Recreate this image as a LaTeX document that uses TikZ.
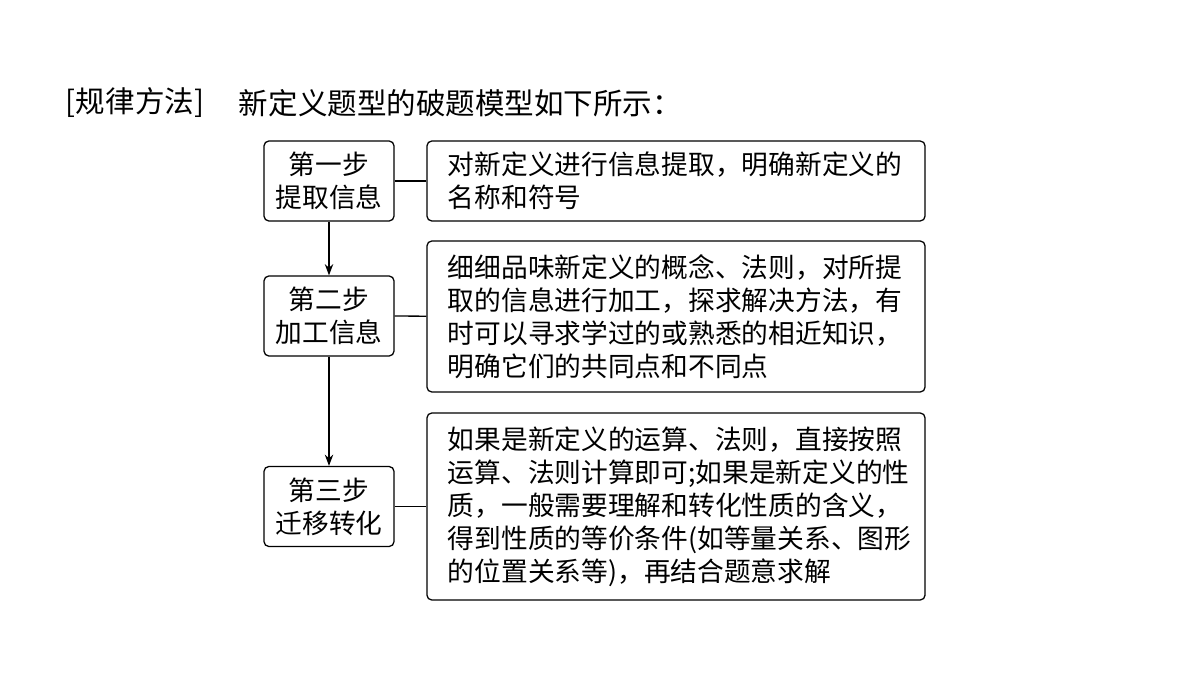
\documentclass[tikz,border=0pt]{standalone}
\usepackage{fontspec}
\setmainfont{Noto Sans CJK SC}
\usetikzlibrary{arrows.meta}
\begin{document}
\begin{tikzpicture}[x=0.025cm,y=-0.025cm,
  stepbox/.style={draw,line width=0.9pt,rounded corners=3.5pt,minimum width=3.25cm,minimum height=2cm,align=center,font=\fontsize{19pt}{23.5pt}\selectfont},
  notebox/.style={draw,line width=0.9pt,rounded corners=3.5pt,minimum width=12.45cm,text width=11.4cm,align=left,font=\fontsize{19pt}{23.5pt}\selectfont},
  link/.style={line width=0.9pt},
  flow/.style={line width=0.9pt,-{Stealth[length=8pt,width=6pt]}}]
\useasboundingbox (0,0) rectangle (1200,675);

\node[anchor=west,font=\fontsize{21pt}{25pt}\selectfont] (tag) at (61,103) {[规律方法]};
\node[anchor=west,font=\fontsize{21pt}{25pt}\selectfont] (title) at (234,103) {新定义题型的破题模型如下所示：};

\node[stepbox] (s1) at (329,181) {第一步\\提取信息};
\node[stepbox] (s2) at (329,316) {第二步\\加工信息};
\node[stepbox] (s3) at (329,506.5) {第三步\\迁移转化};

\node[notebox,minimum height=2cm] (d1) at (676,181) {对新定义进行信息提取，明确新定义的\\名称和符号};
\node[notebox,minimum height=3.775cm] (d2) at (676,316.5) {细细品味新定义的概念、法则，对所提\\取的信息进行加工，探求解决方法，有\\时可以寻求学过的或熟悉的相近知识，\\明确它们的共同点和不同点};
\node[notebox,minimum height=4.675cm] (d3) at (676,506.5) {如果是新定义的运算、法则，直接按照\\运算、法则计算即可;如果是新定义的性\\质，一般需要理解和转化性质的含义，\\得到性质的等价条件(如等量关系、图形\\的位置关系等)，再结合题意求解};

\draw[flow] (s1) -- (s2);
\draw[flow] (s2) -- (s3);
\draw[link] (s1) -- (d1);
\draw[link] (s2) -- (d2);
\draw[link] (s3) -- (d3);
\end{tikzpicture}
\end{document}
